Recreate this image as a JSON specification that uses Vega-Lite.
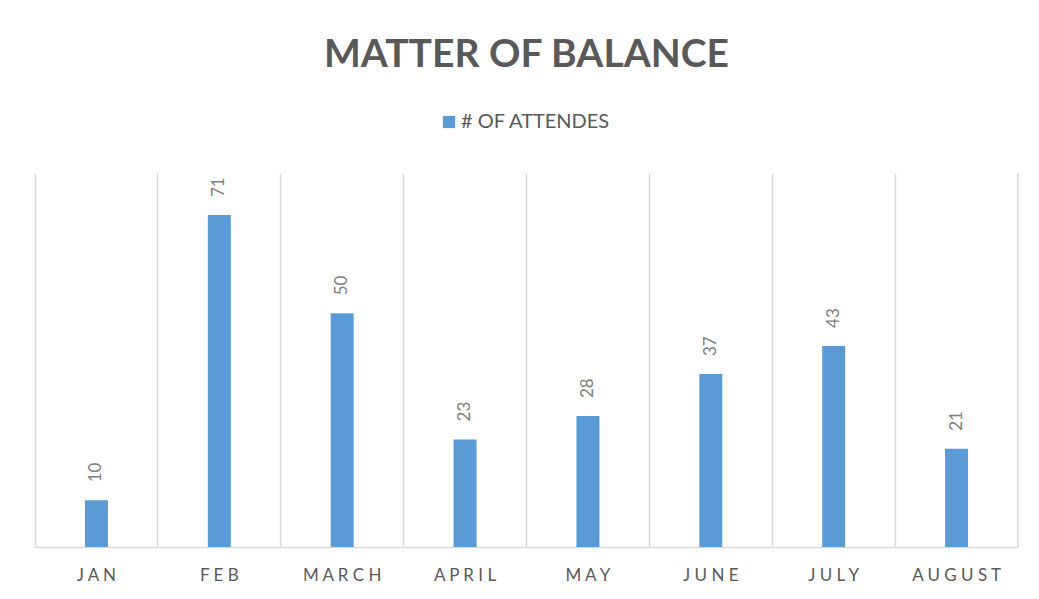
{
  "$schema": "https://vega.github.io/schema/vega-lite/v6.json",
  "autosize": {"type": "none"},
  "width": 983,
  "height": 374,
  "padding": {"left": 35, "top": 173, "right": 21, "bottom": 52},
  "background": "white",
  "title": {
    "text": "MATTER OF BALANCE",
    "anchor": "middle",
    "orient": "top",
    "offset": 37,
    "font": "Lato",
    "fontSize": 39,
    "fontWeight": "bold",
    "color": "#595959"
  },
  "data": {
    "values": [
      {"month": "JAN", "attendees": 10},
      {"month": "FEB", "attendees": 71},
      {"month": "MARCH", "attendees": 50},
      {"month": "APRIL", "attendees": 23},
      {"month": "MAY", "attendees": 28},
      {"month": "JUNE", "attendees": 37},
      {"month": "JULY", "attendees": 43},
      {"month": "AUGUST", "attendees": 21}
    ]
  },
  "config": {
    "view": {"stroke": null},
    "font": "Lato"
  },
  "encoding": {
    "x": {
      "field": "month",
      "type": "nominal",
      "sort": null,
      "scale": {"paddingInner": 0, "paddingOuter": 0},
      "axis": {
        "title": null,
        "labelAngle": 0,
        "labelFont": "Lato",
        "labelFontSize": 17,
        "labelColor": "#595959",
        "labelPadding": 20,
        "labelExpr": "join(split(datum.label, ''), ' ')",
        "ticks": false,
        "domainColor": "#d9d9d9",
        "domainWidth": 1.5,
        "grid": true,
        "gridColor": "#d9d9d9",
        "gridWidth": 1.5,
        "bandPosition": 0
      }
    }
  },
  "layer": [
    {
      "mark": {"type": "bar", "size": 23, "color": "#5b9bd5"},
      "encoding": {
        "y": {
          "field": "attendees",
          "type": "quantitative",
          "scale": {"domain": [0, 80], "nice": false},
          "axis": null
        },
        "color": {
          "datum": "# OF ATTENDES",
          "type": "nominal",
          "scale": {"range": ["#5b9bd5"]},
          "legend": {
            "title": null,
            "orient": "none",
            "legendX": 404,
            "legendY": -61,
            "symbolType": "square",
            "symbolSize": 150,
            "symbolStrokeWidth": 0,
            "labelFont": "Lato",
            "labelFontSize": 20,
            "labelColor": "#595959",
            "labelOffset": 2
          }
        }
      }
    },
    {
      "mark": {
        "type": "text",
        "angle": 270,
        "align": "left",
        "baseline": "middle",
        "dx": 18,
        "font": "Lato",
        "fontSize": 17,
        "color": "#7f7f7f"
      },
      "encoding": {
        "y": {"field": "attendees", "type": "quantitative"},
        "text": {"field": "attendees", "type": "quantitative"}
      }
    },
    {
      "transform": [{"filter": "datum.month === 'AUGUST'"}],
      "mark": {"type": "rule", "color": "#d9d9d9", "strokeWidth": 1.5},
      "encoding": {
        "x": {"field": "month", "type": "nominal", "sort": null, "bandPosition": 1},
        "y": {"datum": 0, "type": "quantitative"},
        "y2": {"datum": 80}
      }
    }
  ]
}
